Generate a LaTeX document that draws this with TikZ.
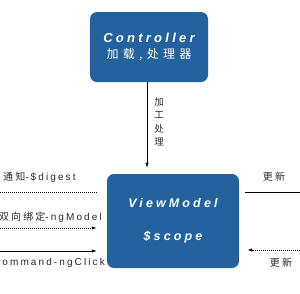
\documentclass[tikz,border=0pt]{standalone}
\usepackage{fontspec}
\setmainfont{Liberation Sans}
\usetikzlibrary{arrows.meta,positioning}
\newfontfamily\boxfont[LetterSpace=25]{Liberation Sans}
\newfontfamily\lblfont[LetterSpace=21]{Liberation Sans}
\newfontfamily\cjk[LetterSpace=21]{Noto Sans CJK SC}
\newfontfamily\cjkwide[LetterSpace=36]{Noto Sans CJK SC}
\definecolor{vmblue}{RGB}{35,98,156}
\definecolor{lbltext}{RGB}{40,40,40}

\begin{document}
\begin{tikzpicture}[x=1pt, y=-1pt,
  box/.style={fill=vmblue, rounded corners=7pt, text=white, align=center},
  lbl/.style={font=\lblfont\fontsize{10}{12}\selectfont, text=lbltext, inner sep=0pt},
  tip/.style={-{Latex[length=5pt,width=3.5pt]}},
  dots/.style={densely dotted, line width=1pt}]
  \useasboundingbox (0,0) rectangle (300,293);
  \clip (0,0) rectangle (300,293);

  % controller and viewmodel boxes
  \node[box, minimum width=118pt, minimum height=70pt] (ctrl) at (149,47)
    {{\boxfont\bfseries\itshape\fontsize{13}{15}\selectfont Controller}\\[4pt]
     {\cjkwide\fontsize{12}{14}\selectfont 加载,处理器}};
  \node[box, minimum width=132pt, minimum height=94pt] (vm) at (173,221)
    {{\boxfont\bfseries\itshape\fontsize{12.5}{15}\selectfont ViewModel}\\[21pt]
     {\boxfont\bfseries\itshape\fontsize{12.5}{15}\selectfont \$scope}};

  % processing arrow
  \coordinate (down) at (147,0);
  \draw[tip, line width=0.8pt] (ctrl.south -| down) -- ([yshift=6pt]vm.north -| down);
  \node[lbl, align=center, font=\cjk\fontsize{9.5}{13.5}\selectfont] (proc) at (159,122)
    {加\\工\\处\\理};

  % view side
  \coordinate (l1) at (0,192);
  \coordinate (l2) at (0,228);
  \coordinate (l3) at (0,251);
  \draw[dots] (l1) -- ([xshift=-10pt]l1 -| vm.west);
  \draw[dots, tip] (l2) -- ([xshift=-10pt]l2 -| vm.west);
  \draw[tip, line width=0.8pt] (l3) -- ([xshift=-10pt]l3 -| vm.west);
  \node[lbl, anchor=west] (digest) at (3,177) {{\cjk 通知}-\$digest};
  \node[lbl, anchor=east] (model) at (102,217) {{\cjk 双向绑定}-ngModel};
  \node[lbl, anchor=east] (click) at (105,263) {Command-ngClick};

  % model side
  \coordinate (r1) at (300,192);
  \coordinate (r2) at (300,250);
  \draw[line width=0.8pt] (r1) -- ([xshift=6pt]r1 -| vm.east);
  \draw[dots, tip] (r2) -- ([xshift=8pt]r2 -| vm.east);
  \node[lbl, font=\cjk\fontsize{10}{12}\selectfont] (upd1) at (274,177) {更新};
  \node[lbl, font=\cjk\fontsize{10}{12}\selectfont] (upd2) at (281,263) {更新};
\end{tikzpicture}
\end{document}
